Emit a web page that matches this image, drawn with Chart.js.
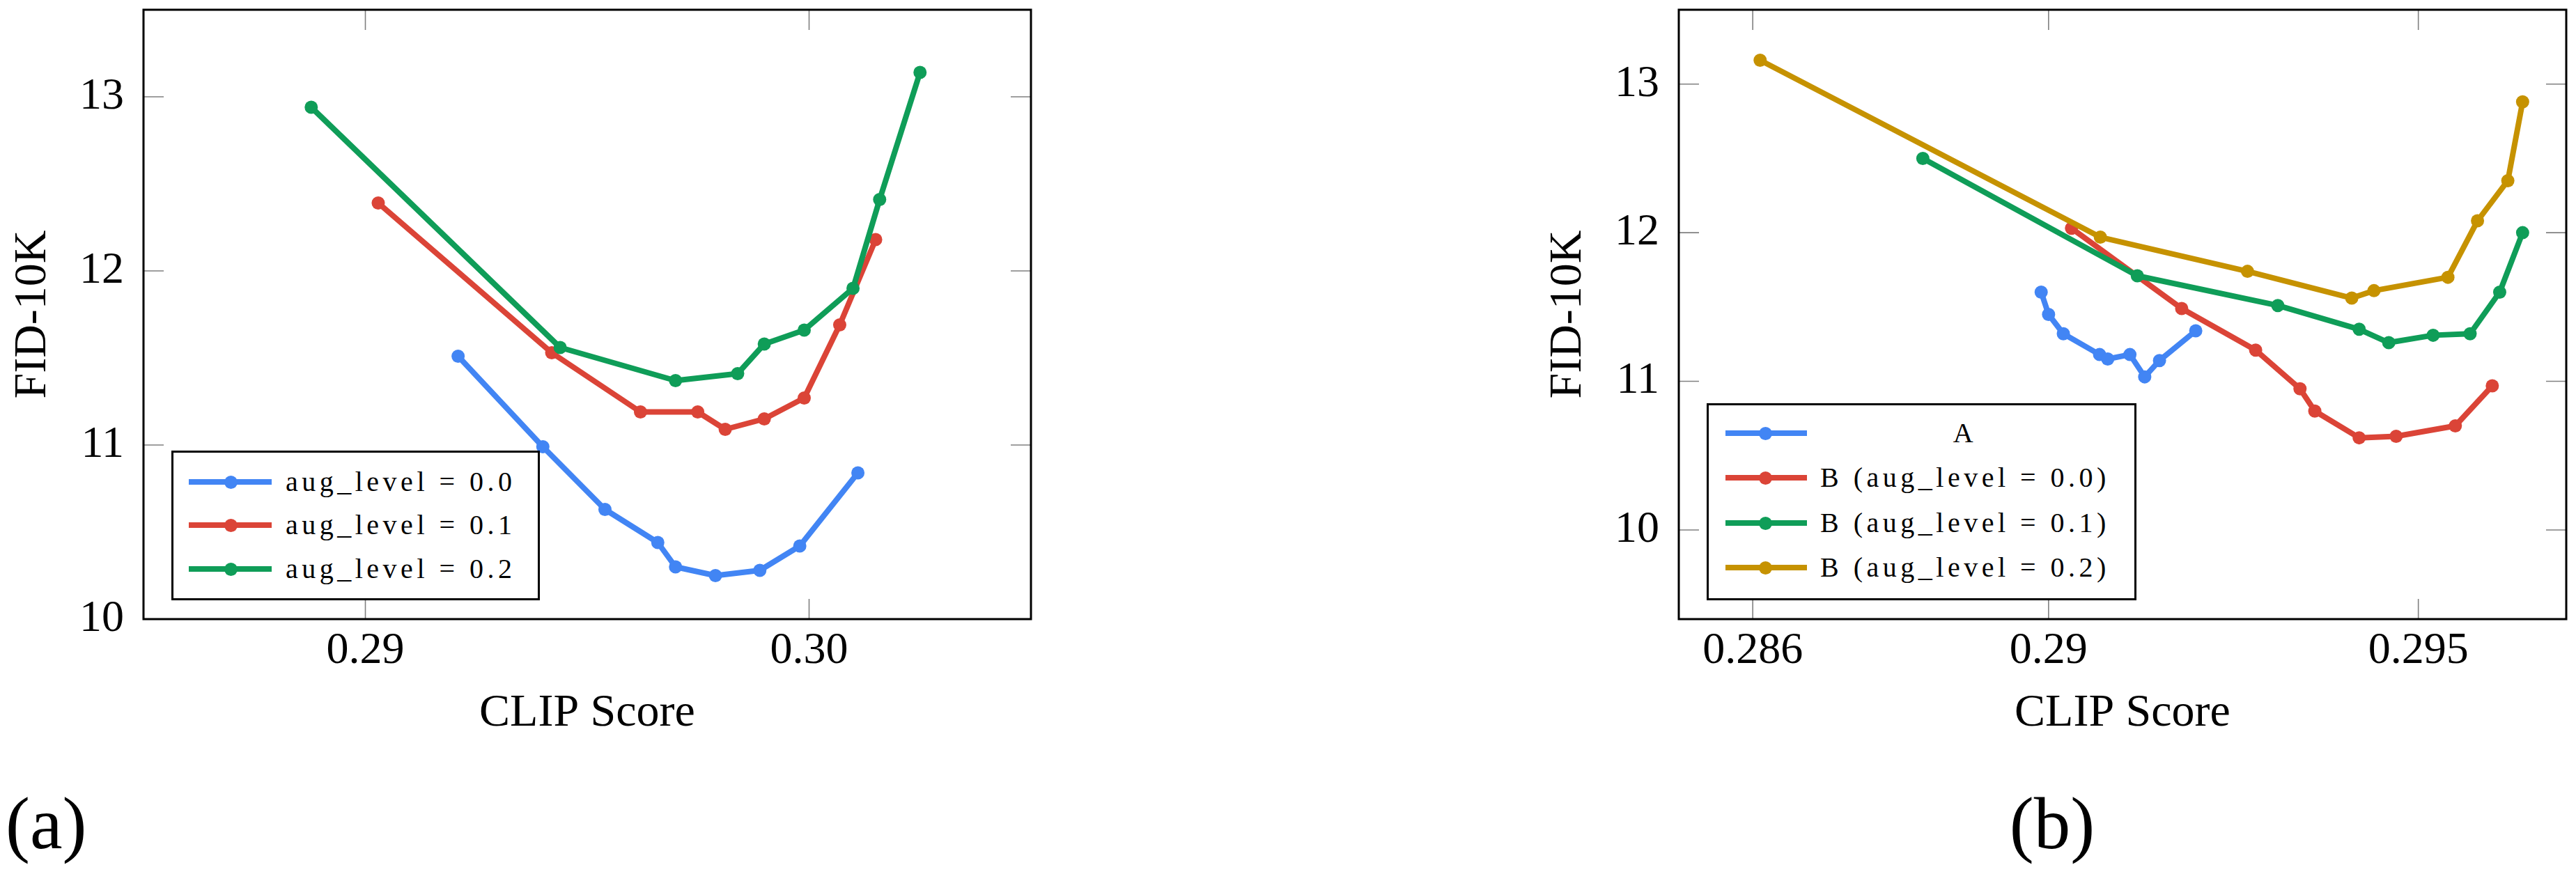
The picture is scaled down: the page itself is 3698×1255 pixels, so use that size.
<!DOCTYPE html>
<html>
<head>
<meta charset="utf-8">
<script src="https://cdn.jsdelivr.net/npm/chart.js@4.4.1/dist/chart.umd.min.js"></script>
<style>
  body { margin: 0; background: #fff; width: 3698px; height: 1255px; position: relative; overflow: hidden;
         font-family: 'Liberation Serif', 'Times New Roman', serif; color: #000; }
  canvas { position: absolute; }
  .legend { position: absolute; border: 3px solid #000; background: #fff; box-sizing: border-box; }
  .row { position: absolute; left: 0; height: 60px; width: 100%; }
  .bar { position: absolute; height: 8px; top: 26px; }
  .dot { position: absolute; width: 19px; height: 19px; border-radius: 50%; top: 20.5px; }
  .txt { position: absolute; top: 0; height: 60px; line-height: 60px; text-align: center; font-size: 40px; letter-spacing: 5.5px; white-space: nowrap; }
  .cap { position: absolute; font-size: 105px; line-height: 105px; }
</style>
</head>
<body>
<canvas id="chartA" width="1530" height="1064" style="left:0;top:0"></canvas>
<canvas id="chartB" width="1494" height="1064" style="left:2204px;top:0"></canvas>
<div id="legA" class="legend" style="left:246px;top:647px;width:529px;height:215px"></div>
<div id="legB" class="legend" style="left:2450px;top:579px;width:617px;height:283px"></div>
<div class="cap" style="left:8px;top:1130px">(a)</div>
<div class="cap" style="left:2796px;top:1130px;width:300px;text-align:center">(b)</div>
<script>
const FONT = "'Liberation Serif', 'Times New Roman', serif";
const BLUE = '#4285F4', RED = '#DB4437', GREEN = '#0F9D58', GOLD = '#C69200';

// ── Panel (a) data ──
const aLabels = ['aug_level = 0.0', 'aug_level = 0.1', 'aug_level = 0.2'];
const aColors = [BLUE, RED, GREEN];
const aX0 = [0.29209, 0.29400, 0.29540, 0.29659, 0.29699, 0.29789, 0.29889, 0.29979, 0.30110];
const aY0 = [11.51, 10.99, 10.63, 10.44, 10.30, 10.25, 10.28, 10.42, 10.84];
const aX1 = [0.29029, 0.29420, 0.29620, 0.29749, 0.29811, 0.29899, 0.29989, 0.30069, 0.30150];
const aY1 = [12.39, 11.53, 11.19, 11.19, 11.09, 11.15, 11.27, 11.69, 12.18];
const aX2 = [0.28878, 0.29439, 0.29699, 0.29839, 0.29899, 0.29989, 0.30099, 0.30159, 0.30250];
const aY2 = [12.94, 11.56, 11.37, 11.41, 11.58, 11.66, 11.90, 12.41, 13.14];
const aXTicks = [0.29, 0.30];
const aXTickLabels = ['0.29', '0.30'];
const aYTicks = [10, 11, 12, 13];
const aYTickLabels = ['10', '11', '12', '13'];

// ── Panel (b) data ──
const bLabels = ['A', 'B (aug_level = 0.0)', 'B (aug_level = 0.1)', 'B (aug_level = 0.2)'];
const bColors = [BLUE, RED, GREEN, GOLD];
const bXA = [0.28990, 0.29000, 0.29020, 0.29069, 0.29080, 0.29110, 0.29130, 0.29150, 0.29199];
const bYA = [11.60, 11.45, 11.32, 11.18, 11.15, 11.18, 11.03, 11.14, 11.34];
const bX0 = [0.29031, 0.29180, 0.29280, 0.29340, 0.29360, 0.29420, 0.29470, 0.29550, 0.29600];
const bY0 = [12.03, 11.49, 11.21, 10.95, 10.80, 10.62, 10.63, 10.70, 10.97];
const bX1 = [0.28830, 0.29120, 0.29310, 0.29420, 0.29460, 0.29520, 0.29570, 0.29610, 0.29641];
const bY1 = [12.50, 11.71, 11.51, 11.35, 11.26, 11.31, 11.32, 11.60, 12.00];
const bX2 = [0.28610, 0.29070, 0.29269, 0.29410, 0.29440, 0.29540, 0.29580, 0.29621, 0.29641];
const bY2 = [13.16, 11.97, 11.74, 11.56, 11.61, 11.70, 12.08, 12.35, 12.88];
const bXTicks = [0.286, 0.29, 0.295];
const bXTickLabels = ['0.286', '0.29', '0.295'];
const bYTicks = [10, 11, 12, 13];
const bYTickLabels = ['10', '11', '12', '13'];

// ── Helpers ──
const pts = (xs, ys) => xs.map((x, i) => ({ x, y: ys[i] }));

function series(labels, colors, xs, ys) {
  return labels.map((label, i) => ({
    label,
    data: pts(xs[i], ys[i]),
    borderColor: colors[i],
    backgroundColor: colors[i],
    borderWidth: 8,
    pointRadius: 9.5,
    pointBorderWidth: 0,
    pointBackgroundColor: colors[i],
    borderJoinStyle: 'round',
    borderCapStyle: 'round',
    order: labels.length - i,   // later series on top
  }));
}

// inner tick marks on all four sides + black frame
const framePlugin = {
  id: 'frame',
  beforeDatasetsDraw(chart) {
    const { ctx, chartArea: { left, right, top, bottom }, scales: { x, y } } = chart;
    ctx.save();
    ctx.strokeStyle = '#808080';
    ctx.lineWidth = 1.6;
    ctx.beginPath();
    x.ticks.forEach(t => {
      const p = x.getPixelForValue(t.value);
      ctx.moveTo(p, bottom); ctx.lineTo(p, bottom - 29);
      ctx.moveTo(p, top); ctx.lineTo(p, top + 29);
    });
    y.ticks.forEach(t => {
      const p = y.getPixelForValue(t.value);
      ctx.moveTo(left, p); ctx.lineTo(left + 29, p);
      ctx.moveTo(right, p); ctx.lineTo(right - 29, p);
    });
    ctx.stroke();
    ctx.restore();
  },
  afterDraw(chart) {
    const { ctx, chartArea: { left, right, top, bottom } } = chart;
    ctx.save();
    ctx.strokeStyle = '#000';
    ctx.lineWidth = 3;
    ctx.strokeRect(left, top, right - left, bottom - top);
    ctx.restore();
  }
};

function makePanel(id, datasets, xr, yr, xTicks, xTickLabels, yTicks, yTickLabels, padRight) {
  return new Chart(document.getElementById(id).getContext('2d'), {
    type: 'line',
    data: { datasets },
    plugins: [framePlugin],
    options: {
      responsive: false,
      animation: false,
      devicePixelRatio: 1,
      layout: { padding: { top: 14, right: padRight, bottom: 0, left: 0 } },
      plugins: { legend: { display: false }, tooltip: { enabled: false } },
      scales: {
        x: {
          type: 'linear', min: xr[0], max: xr[1],
          afterBuildTicks: s => { s.ticks = xTicks.map(v => ({ value: v })); },
          afterFit: s => { s.height = 175; s.paddingLeft = 0; s.paddingRight = 0; },
          grid: { display: false, drawTicks: false },
          border: { display: false },
          ticks: { padding: 8, color: '#000', maxRotation: 0, autoSkip: false,
                   font: { family: FONT, size: 64 }, callback: (v, i) => xTickLabels[i] },
          title: { display: true, text: 'CLIP Score', color: '#000',
                   font: { family: FONT, size: 66 }, padding: { top: 0, bottom: 0 } }
        },
        y: {
          type: 'linear', min: yr[0], max: yr[1],
          afterBuildTicks: s => { s.ticks = yTicks.map(v => ({ value: v })); },
          afterFit: s => { s.width = 206; s.paddingTop = 0; s.paddingBottom = 0; },
          grid: { display: false, drawTicks: false },
          border: { display: false },
          ticks: { padding: 28, color: '#000', font: { family: FONT, size: 64 },
                   callback: (v, i) => yTickLabels[i] },
          title: { display: true, text: 'FID-10K', color: '#000',
                   font: { family: FONT, size: 66 }, padding: { top: 8, bottom: 0 } }
        }
      }
    }
  });
}

function buildLegend(id, labels, colors, rowTops, barLeft, barW, dotLeft, txtLeft, txtW) {
  const el = document.getElementById(id);
  labels.forEach((lab, i) => {
    const row = document.createElement('div');
    row.className = 'row';
    row.style.top = rowTops[i] + 'px';
    row.innerHTML =
      `<div class="bar" style="left:${barLeft}px;width:${barW}px;background:${colors[i]}"></div>` +
      `<div class="dot" style="left:${dotLeft - 9.5}px;background:${colors[i]}"></div>` +
      `<div class="txt" style="left:${txtLeft}px;width:${txtW}px">${lab}</div>`;
    el.appendChild(row);
  });
}

makePanel('chartA', series(aLabels, aColors, [aX0, aX1, aX2], [aY0, aY1, aY2]),
  [0.285, 0.305], [10, 13.5], aXTicks, aXTickLabels, aYTicks, aYTickLabels, 50);
makePanel('chartB', series(bLabels, bColors, [bXA, bX0, bX1, bX2], [bYA, bY0, bY1, bY2]),
  [0.285, 0.297], [9.4, 13.5], bXTicks, bXTickLabels, bYTicks, bYTickLabels, 14);

buildLegend('legA', aLabels, aColors, [12, 74, 137], 22, 119, 82, 161, 329);
buildLegend('legB', bLabels, bColors, [10, 74, 139, 203], 24, 117, 81, 160, 416);
</script>
</body>
</html>
